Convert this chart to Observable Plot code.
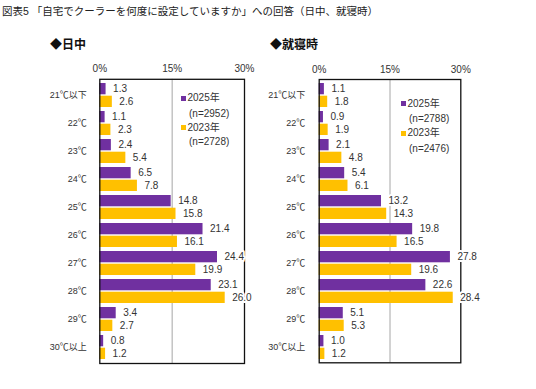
<!DOCTYPE html>
<html><head><meta charset="utf-8">
<script src="https://cdn.jsdelivr.net/npm/d3@7"></script>
<script src="https://cdn.jsdelivr.net/npm/@observablehq/plot@0.6"></script>
<style>
body{margin:0;background:#fff;}
#c{position:relative;width:536px;height:389px;background:#fff;font-family:Arial,"Liberation Sans","Noto Sans CJK JP",sans-serif;color:#222;overflow:hidden;}
.abs{position:absolute;white-space:nowrap;}
.lg{font-size:10px;line-height:12px;color:#333;}
.sq{position:absolute;width:5px;height:5px;}
</style></head>
<body><div id="c"></div>
<script>
const categories = ["21℃以下","22℃","23℃","24℃","25℃","26℃","27℃","28℃","29℃","30℃以上"];
const day2025 = [1.3,1.1,2.4,6.5,14.8,21.4,24.4,23.1,3.4,0.8];
const day2023 = [2.6,2.3,5.4,7.8,15.8,16.1,19.9,26.0,2.7,1.2];
const night2025 = [1.1,0.9,2.1,5.4,13.2,19.8,27.8,22.6,5.1,1.0];
const night2023 = [1.8,1.9,4.8,6.1,14.3,16.5,19.6,28.4,5.3,1.2];
const xTicks = [0,15,30];
const title = "図表5 「自宅でクーラーを何度に設定していますか」への回答（日中、就寝時）";
const panelTitles = ["◆日中","◆就寝時"];
const legendDay = ["2025年","(n=2952)","2023年","(n=2728)"];
const legendNight = ["2025年","(n=2788)","2023年","(n=2476)"];
const PURPLE = "#7030A0", YELLOW = "#FFC000";
const FONT = 'Arial,"Liberation Sans","Noto Sans CJK JP",sans-serif';

const c = document.getElementById("c");
function add(html, cls, left, top, extra){
  const d = document.createElement("div");
  d.className = "abs " + (cls||"");
  d.style.left = left+"px"; d.style.top = top+"px";
  if (extra) Object.assign(d.style, extra);
  d.textContent = html;
  c.appendChild(d);
  return d;
}
add(title, "", 2, 4, {fontSize:"10.5px", lineHeight:"14px", color:"#222"});
add(panelTitles[0], "", 50, 38, {fontSize:"12px", fontWeight:"bold", lineHeight:"14px", color:"#111"});
add(panelTitles[1], "", 270, 38, {fontSize:"12px", fontWeight:"bold", lineHeight:"14px", color:"#111"});

function panel(v25, v23, o){
  const r25 = categories.map((cat,i)=>({c:cat, v:v25[i]}));
  const r23 = categories.map((cat,i)=>({c:cat, v:v23[i]}));
  const txt = {x:"v", y:"c", text:d=>d.v.toFixed(1), dx:7, textAnchor:"start", fill:"#333",
               stroke:"white", strokeWidth:4, fontSize:10};
  const p = Plot.plot({
    width: o.width, height: 320,
    marginLeft: o.ml, marginRight: o.mr, marginTop: o.mt, marginBottom: o.mb,
    style: {fontFamily: FONT, background:"transparent", overflow:"visible"},
    x: {domain:[0,30], axis:null},
    y: {domain: categories, paddingInner:0.14, paddingOuter:0, axis:null},
    marks: [
      Plot.ruleX([15], {stroke:"#a6a6a6", strokeWidth:1}),
      Plot.barX(r25, {x:"v", y:"c", fill:PURPLE, insetBottom:12.7}),
      Plot.barX(r23, {x:"v", y:"c", fill:YELLOW, insetTop:12.7}),
      Plot.frame({stroke:"#111", strokeWidth:1.3}),
      Plot.text(r25, {...txt, dy:-6.3}),
      Plot.text(r23, {...txt, dy:6.3}),
      Plot.text(categories, {x:0, y:d=>d, text:d=>d, dx:-o.tp, textAnchor:"end", fontSize:9, fill:"#333"}),
      Plot.text(xTicks, {x:d=>d, frameAnchor:"top", text:d=>d+"%", dy:-14, fontSize:10, fill:"#333"})
    ]
  });
  p.style.position = "absolute";
  p.style.left = o.left+"px"; p.style.top = "55px";
  c.appendChild(p);
}
panel(day2025, day2023, {left:0, width:268, ml:99.3, mr:24, mt:23.8, mb:12, tp:13});
panel(night2025, night2023, {left:268, width:268, ml:50.7, mr:75.7, mt:24, mb:12.7, tp:14});

function legend(items, sx, tx, ys){
  const sq1 = document.createElement("div"); sq1.className="sq";
  Object.assign(sq1.style,{left:sx+"px", top:(ys[0]-2.5)+"px", background:PURPLE}); c.appendChild(sq1);
  const sq2 = document.createElement("div"); sq2.className="sq";
  Object.assign(sq2.style,{left:sx+"px", top:(ys[2]-2.5)+"px", background:YELLOW}); c.appendChild(sq2);
  add(items[0], "lg", tx, ys[0]-6);
  add(items[1], "lg", tx+1.5, ys[1]-6);
  add(items[2], "lg", tx, ys[2]-6);
  add(items[3], "lg", tx+1.5, ys[3]-6);
}
legend(legendDay, 181, 187.5, [98.3,114.3,127.7,142.3]);
legend(legendNight, 401, 407.5, [103.8,119,133.3,149]);
</script></body></html>
